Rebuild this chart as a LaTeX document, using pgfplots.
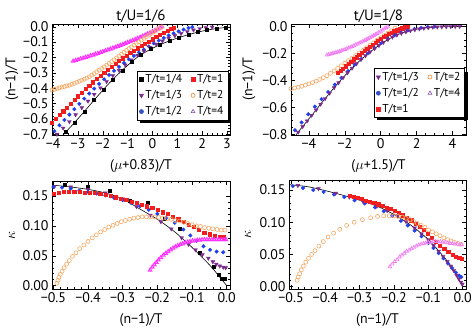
\documentclass[border=0pt]{standalone}
\usepackage{pgfplots}
\pgfplotsset{compat=1.18}
\usepackage{fontspec}
\setmainfont{PT Sans}
\usetikzlibrary{shadows}

\definecolor{cpur}{HTML}{7A2A8C}
\definecolor{cblue}{HTML}{1F3FF0}
\definecolor{cred}{HTML}{F01E1E}
\definecolor{cor}{HTML}{F6A863}
\definecolor{corleg}{HTML}{EE8A2E}
\definecolor{cmag}{HTML}{FF30FF}
\definecolor{cmagl}{HTML}{F27FF2}
\definecolor{cpurleg}{HTML}{8A4AAE}
\definecolor{cbleg}{HTML}{3452C4}

\pgfplotsset{
  mma/.style={
    scale only axis, anchor=south west, clip=true,
    axis line style={line width=0.9bp},
    tick align=inside, xtick pos=both, ytick pos=both,
    major tick length=4bp, minor tick length=2.2bp,
    every tick/.style={black, line width=0.5bp},
    ticklabel style={font=\fontsize{14}{15}\selectfont},
    label style={font=\fontsize{14}{15}\selectfont},
    title style={font=\fontsize{15}{16}\selectfont, inner sep=0pt, yshift=-4.5bp},
    xlabel style={at={(axis description cs:0.5,0)}, anchor=center, yshift=-31bp},
    legend style={draw=black, line width=0.7bp, fill=white,
      font=\fontsize{11.5}{13}\selectfont, inner xsep=2.5bp, inner ysep=1.5bp,
      row sep=2.5bp, /tikz/every even column/.append style={column sep=7bp},
      drop shadow={shadow xshift=2.8bp, shadow yshift=-2.8bp, fill=black, opacity=1}},
    legend columns=2, legend cell align=left,
    legend image code/.code={\draw[#1] plot coordinates {(0bp,0bp)};},
  },
  s14/.style={only marks, mark=square*, mark size=1.5bp, black},
  s13/.style={only marks, mark=triangle*, mark size=2.2bp, color=cpur, mark options={rotate=180}},
  s12/.style={only marks, mark=*, mark size=1.8bp, color=cblue},
  s1/.style={only marks, mark=square*, mark size=1.6bp, color=cred},
  s2/.style={only marks, mark=o, mark size=2bp, color=cor, mark options={line width=0.6bp}},
  s4/.style={only marks, mark=triangle, mark size=2bp, color=cmag, mark options={line width=1bp}},
  l14/.style={only marks, mark=square*, mark size=1.7bp, black},
  l13/.style={only marks, mark=triangle*, mark size=2.3bp, cpur, mark options={rotate=180}},
  l12/.style={only marks, mark=*, mark size=2bp, cbleg},
  l1/.style={only marks, mark=square*, mark size=1.8bp, cred},
  l2/.style={only marks, mark=o, mark size=2bp, corleg, mark options={line width=0.6bp}},
  l4/.style={only marks, mark=triangle, mark size=2.2bp, cpurleg, mark options={line width=0.6bp}},
}

\begin{document}
\begin{tikzpicture}
\useasboundingbox (0,0) rectangle (472bp,336bp);

% ---- top left: t/U=1/6
\begin{axis}[mma, at={(52bp,201bp)}, width=178bp, height=111bp,
  title={t/U=1/6},
  xmin=-4.05, xmax=3.12, ymin=-0.705, ymax=0.018,
  xtick={-4,-3,-2,-1,0,1,2,3}, xticklabels={−4,−3,−2,−1,0,1,2,3},
  ytick={-0.7,-0.6,-0.5,-0.4,-0.3,-0.2,-0.1,0}, yticklabels={−0.7,−0.6,−0.5,−0.4,−0.3,−0.2,−0.1,0.0},
  minor x tick num=4, minor y tick num=4,
  xlabel={($\mu$+0.83)/T}, ylabel={(n−1)/T},
  ylabel style={at={(axis description cs:-0.225,0.5)}, anchor=center},
  legend style={at={(0.99,0.58)}, anchor=north east}]
\addlegendimage{l14}\addlegendentry{T/t=1/4}
\addlegendimage{l1}\addlegendentry{T/t=1}
\addlegendimage{l13}\addlegendentry{T/t=1/3}
\addlegendimage{l2}\addlegendentry{T/t=2}
\addlegendimage{l12}\addlegendentry{T/t=1/2}
\addlegendimage{l4}\addlegendentry{T/t=4}
\addplot[black, line width=0.6bp, smooth, forget plot] coordinates {
(-3.65,-0.712)(-3.3,-0.652)(-3.0,-0.598)(-2.7,-0.543)(-2.4,-0.486)(-2.1,-0.431)(-1.8,-0.377)(-1.5,-0.327)(-1.2,-0.28)(-0.9,-0.237)(-0.6,-0.197)(-0.3,-0.166)(0,-0.14)(0.3,-0.117)(0.6,-0.097)(0.9,-0.079)(1.2,-0.063)(1.5,-0.049)(1.8,-0.036)(2.1,-0.025)(2.4,-0.016)(2.7,-0.009)(3.0,-0.004)(3.15,-0.003)};
\addplot[s4, forget plot] coordinates {
(-3.2,-0.224)(-3.1,-0.219)(-3.0,-0.214)(-2.9,-0.209)(-2.8,-0.204)(-2.7,-0.199)(-2.6,-0.194)(-2.5,-0.189)(-2.4,-0.184)(-2.3,-0.178)(-2.2,-0.173)(-2.1,-0.167)(-2.0,-0.162)(-1.9,-0.156)(-1.8,-0.15)(-1.7,-0.145)(-1.6,-0.139)(-1.5,-0.133)(-1.4,-0.127)(-1.3,-0.121)(-1.2,-0.115)(-1.1,-0.108)(-1.0,-0.102)(-0.9,-0.095)(-0.8,-0.089)(-0.7,-0.082)(-0.6,-0.075)(-0.5,-0.068)(-0.4,-0.061)(-0.3,-0.054)(-0.2,-0.046)(-0.1,-0.039)(0.0,-0.031)(0.1,-0.023)(0.2,-0.015)(0.3,-0.007)(0.38,0.0)};
\addplot[s2, forget plot] coordinates {
(-4.05,-0.412)(-3.95,-0.408)(-3.85,-0.403)(-3.75,-0.398)(-3.65,-0.393)(-3.55,-0.389)(-3.45,-0.385)(-3.35,-0.381)(-3.25,-0.375)(-3.15,-0.369)(-3.05,-0.362)(-2.95,-0.355)(-2.85,-0.348)(-2.75,-0.341)(-2.65,-0.334)(-2.55,-0.326)(-2.45,-0.316)(-2.35,-0.305)(-2.25,-0.294)(-2.15,-0.283)(-2.05,-0.272)(-1.95,-0.261)(-1.85,-0.25)(-1.75,-0.239)(-1.65,-0.227)(-1.55,-0.215)(-1.45,-0.203)(-1.35,-0.191)(-1.25,-0.179)(-1.15,-0.166)(-1.05,-0.154)(-0.95,-0.142)(-0.85,-0.131)(-0.75,-0.12)(-0.65,-0.109)(-0.55,-0.098)(-0.45,-0.087)(-0.35,-0.076)(-0.25,-0.065)(-0.15,-0.054)(-0.05,-0.044)(0.05,-0.034)(0.15,-0.023)(0.25,-0.013)(0.35,-0.002)};
\addplot[s1, forget plot] coordinates {
(-4.05,-0.625)(-3.9,-0.6)(-3.75,-0.575)(-3.6,-0.55)(-3.45,-0.525)(-3.3,-0.5)(-3.15,-0.476)(-3.0,-0.452)(-2.85,-0.428)(-2.7,-0.405)(-2.55,-0.383)(-2.4,-0.361)(-2.25,-0.34)(-2.1,-0.319)(-1.95,-0.299)(-1.8,-0.279)(-1.65,-0.26)(-1.5,-0.241)(-1.35,-0.223)(-1.2,-0.205)(-1.05,-0.188)(-0.9,-0.171)(-0.75,-0.155)(-0.6,-0.139)(-0.45,-0.124)(-0.3,-0.109)(-0.15,-0.095)(0.0,-0.081)(0.15,-0.067)(0.3,-0.054)(0.45,-0.041)(0.6,-0.028)(0.75,-0.015)(0.85,-0.005)};
\addplot[s12, forget plot] coordinates {
(-3.95,-0.68)(-3.75,-0.642)(-3.55,-0.607)(-3.35,-0.572)(-3.15,-0.537)(-2.95,-0.502)(-2.75,-0.468)(-2.55,-0.435)(-2.35,-0.403)(-2.15,-0.372)(-1.95,-0.342)(-1.75,-0.314)(-1.55,-0.287)(-1.35,-0.261)(-1.15,-0.236)(-0.95,-0.212)(-0.75,-0.19)(-0.55,-0.168)(-0.35,-0.148)(-0.15,-0.128)(0.05,-0.108)(0.25,-0.09)(0.45,-0.073)(0.65,-0.057)(0.85,-0.043)(1.05,-0.03)(1.25,-0.018)(1.45,-0.008)(1.6,-0.002)};
\addplot[s13, forget plot] coordinates {
(-3.85,-0.7)(-3.6,-0.66)(-3.35,-0.618)(-3.1,-0.573)(-2.85,-0.527)(-2.6,-0.484)(-2.35,-0.44)(-2.1,-0.398)(-1.85,-0.357)(-1.6,-0.318)(-1.35,-0.283)(-1.1,-0.249)(-0.85,-0.216)(-0.6,-0.186)(-0.35,-0.159)(-0.1,-0.135)(0.15,-0.113)(0.4,-0.093)(0.65,-0.075)(0.9,-0.058)(1.15,-0.044)(1.4,-0.032)(1.65,-0.021)(1.9,-0.012)(2.15,-0.006)(2.4,-0.002)};
\addplot[s14, forget plot] coordinates {
(-3.5,-0.686)(-3.12,-0.622)(-2.74,-0.552)(-2.36,-0.478)(-1.98,-0.408)(-1.6,-0.342)(-1.22,-0.283)(-0.84,-0.229)(-0.46,-0.181)(-0.08,-0.146)(0.3,-0.117)(0.68,-0.092)(1.06,-0.071)(1.44,-0.052)(1.82,-0.035)(2.2,-0.022)(2.58,-0.012)(2.96,-0.005)};
\end{axis}

% ---- top right: t/U=1/8
\begin{axis}[mma, at={(291bp,201bp)}, width=175bp, height=111bp,
  title={t/U=1/8},
  xmin=-5, xmax=4.75, ymin=-0.806, ymax=0.018,
  xtick={-4,-2,0,2,4}, xticklabels={−4,−2,0,2,4},
  ytick={-0.8,-0.6,-0.4,-0.2,0}, yticklabels={−0.8,−0.6,−0.4,−0.2,0.0},
  minor x tick num=3, minor y tick num=3,
  xlabel={($\mu$+1.5)/T}, ylabel={(n−1)/T},
  ylabel style={at={(axis description cs:-0.24,0.5)}, anchor=center},
  legend style={at={(0.995,0.6)}, anchor=north east}]
\addlegendimage{l13}\addlegendentry{T/t=1/3}
\addlegendimage{l2}\addlegendentry{T/t=2}
\addlegendimage{l12}\addlegendentry{T/t=1/2}
\addlegendimage{l4}\addlegendentry{T/t=4}
\addlegendimage{l1}\addlegendentry{T/t=1}
\addplot[black, line width=0.6bp, smooth, forget plot] coordinates {
(-5.0,-0.86)(-4.69,-0.8)(-4.3,-0.735)(-4.0,-0.685)(-3.6,-0.62)(-3.3,-0.568)(-3.0,-0.52)(-2.6,-0.455)(-2.3,-0.41)(-2.0,-0.365)(-1.7,-0.323)(-1.4,-0.283)(-1.1,-0.246)(-0.8,-0.212)(-0.5,-0.18)(-0.2,-0.15)(0.1,-0.122)(0.4,-0.097)(0.7,-0.076)(1.0,-0.058)(1.3,-0.044)(1.6,-0.033)(2.0,-0.021)(2.5,-0.011)(3.0,-0.005)(3.5,-0.002)(4.0,-0.001)(4.75,0.0)};
\addplot[s4, color=cmagl, mark options={line width=0.7bp}, forget plot] coordinates {
(-3.0,-0.213)(-2.9,-0.209)(-2.8,-0.205)(-2.7,-0.201)(-2.6,-0.197)(-2.5,-0.193)(-2.4,-0.19)(-2.3,-0.186)(-2.2,-0.181)(-2.1,-0.176)(-2.0,-0.171)(-1.9,-0.166)(-1.8,-0.161)(-1.7,-0.155)(-1.6,-0.149)(-1.5,-0.143)(-1.4,-0.137)(-1.3,-0.131)(-1.2,-0.124)(-1.1,-0.118)(-1.0,-0.111)(-0.9,-0.104)(-0.8,-0.097)(-0.7,-0.09)(-0.6,-0.083)(-0.5,-0.076)(-0.4,-0.068)(-0.3,-0.06)(-0.2,-0.052)(-0.1,-0.044)(0.0,-0.036)(0.1,-0.027)(0.2,-0.018)(0.3,-0.01)(0.4,-0.003)};
\addplot[s2, forget plot] coordinates {
(-5.0,-0.462)(-4.8,-0.457)(-4.6,-0.451)(-4.4,-0.444)(-4.2,-0.436)(-4.0,-0.427)(-3.8,-0.417)(-3.6,-0.406)(-3.4,-0.394)(-3.2,-0.38)(-3.0,-0.365)(-2.8,-0.348)(-2.6,-0.33)(-2.4,-0.311)(-2.2,-0.292)(-2.0,-0.273)(-1.8,-0.254)(-1.6,-0.235)(-1.4,-0.216)(-1.2,-0.197)(-1.0,-0.178)(-0.8,-0.159)(-0.6,-0.14)(-0.4,-0.121)(-0.2,-0.102)(0.0,-0.084)(0.2,-0.066)(0.4,-0.05)(0.6,-0.032)(0.8,-0.014)};
\addplot[s1, forget plot] coordinates {
(-2.4,-0.346)(-2.25,-0.329)(-2.1,-0.312)(-1.95,-0.295)(-1.8,-0.278)(-1.65,-0.261)(-1.5,-0.244)(-1.35,-0.228)(-1.2,-0.212)(-1.05,-0.196)(-0.9,-0.18)(-0.75,-0.164)(-0.6,-0.148)(-0.45,-0.133)(-0.3,-0.118)(-0.15,-0.104)(0.0,-0.091)(0.15,-0.078)(0.3,-0.066)(0.45,-0.055)(0.6,-0.045)(0.75,-0.036)(0.9,-0.028)(1.05,-0.02)(1.2,-0.013)(1.35,-0.006)(1.5,0.0)};
\addplot[s12, forget plot] coordinates {
(-4.78,-0.77)(-4.41,-0.713)(-4.04,-0.652)(-3.67,-0.595)(-3.3,-0.54)(-2.93,-0.487)(-2.56,-0.432)(-2.19,-0.382)(-1.82,-0.332)(-1.45,-0.284)(-1.08,-0.24)(-0.71,-0.2)(-0.34,-0.16)(0.03,-0.124)(0.4,-0.092)(0.77,-0.066)(1.14,-0.046)(1.51,-0.03)(1.88,-0.018)(2.25,-0.01)(2.62,-0.004)(2.99,-0.001)};
\addplot[s13, forget plot] coordinates {
(-4.6,-0.785)(-4.35,-0.743)(-4.1,-0.702)(-3.85,-0.66)(-3.6,-0.62)(-3.35,-0.577)(-3.1,-0.536)(-2.85,-0.495)(-2.6,-0.455)(-2.35,-0.418)(-2.1,-0.38)(-1.85,-0.344)(-1.6,-0.31)(-1.35,-0.277)(-1.1,-0.246)(-0.85,-0.218)(-0.6,-0.19)(-0.35,-0.165)(-0.1,-0.141)(0.15,-0.118)(0.4,-0.097)(0.65,-0.079)(0.9,-0.064)(1.15,-0.051)(1.4,-0.04)(1.65,-0.031)(1.9,-0.024)(2.15,-0.018)(2.4,-0.013)(2.65,-0.009)(2.9,-0.006)(3.15,-0.004)(3.4,-0.003)(3.65,-0.002)(3.9,-0.001)(4.15,0.0)(4.4,0.0)};
\end{axis}

% ---- bottom left: kappa, t/U=1/6
\begin{axis}[mma, at={(52bp,47bp)}, width=178bp, height=108bp,
  xmin=-0.504, xmax=0.0095, ymin=-0.0055, ymax=0.175,
  xtick={-0.5,-0.4,-0.3,-0.2,-0.1,0}, xticklabels={−0.5,−0.4,−0.3,−0.2,−0.1,0.0},
  ytick={0,0.05,0.1,0.15}, yticklabels={0.00,0.05,0.10,0.15},
  minor x tick num=4, minor y tick num=4,
  xlabel={(n−1)/T}, ylabel={$\kappa$},
  ylabel style={at={(axis description cs:-0.225,0.5)}, anchor=center}]
\addplot[black, line width=0.6bp, smooth] coordinates {
(-0.51,0.169)(-0.5,0.168)(-0.45,0.165)(-0.4,0.161)(-0.35,0.155)(-0.3,0.145)(-0.25,0.128)(-0.2,0.111)(-0.15,0.09)(-0.1,0.064)(-0.05,0.035)(-0.025,0.018)(0,0.0)};
\addplot[s14] coordinates {
(-0.466,0.169)(-0.402,0.165)(-0.337,0.159)(-0.281,0.142)(-0.229,0.138)(-0.18,0.112)(-0.135,0.096)(-0.077,0.056)(-0.038,0.031)(-0.024,0.018)(-0.014,0.012)(-0.005,0.011)};
\addplot[s13] coordinates {
(-0.497,0.166)(-0.45,0.165)(-0.4,0.161)(-0.35,0.155)(-0.3,0.145)(-0.26,0.132)(-0.22,0.118)(-0.19,0.107)(-0.16,0.095)(-0.13,0.08)(-0.11,0.069)(-0.09,0.06)(-0.07,0.052)(-0.053,0.046)(-0.04,0.04)(-0.03,0.036)(-0.02,0.033)(-0.01,0.031)(-0.003,0.03)};
\addplot[s12] coordinates {
(-0.5,0.165)(-0.475,0.164)(-0.45,0.162)(-0.425,0.159)(-0.4,0.157)(-0.375,0.154)(-0.35,0.151)(-0.325,0.147)(-0.3,0.143)(-0.275,0.138)(-0.25,0.133)(-0.225,0.127)(-0.2,0.12)(-0.175,0.113)(-0.15,0.105)(-0.125,0.094)(-0.105,0.084)(-0.087,0.075)(-0.067,0.066)(-0.048,0.06)(-0.029,0.057)(-0.01,0.056)};
\addplot[s1] coordinates {
(-0.5,0.154)(-0.485,0.156)(-0.47,0.157)(-0.455,0.157)(-0.44,0.157)(-0.425,0.157)(-0.41,0.156)(-0.395,0.156)(-0.38,0.155)(-0.365,0.154)(-0.35,0.152)(-0.335,0.15)(-0.32,0.148)(-0.305,0.146)(-0.29,0.144)(-0.275,0.141)(-0.26,0.139)(-0.245,0.136)(-0.23,0.133)(-0.215,0.13)(-0.2,0.127)(-0.185,0.123)(-0.17,0.12)(-0.155,0.116)(-0.14,0.111)(-0.125,0.107)(-0.11,0.102)(-0.095,0.098)(-0.08,0.093)(-0.065,0.089)(-0.05,0.086)(-0.035,0.084)(-0.02,0.082)(-0.008,0.081)};
\addplot[s2] coordinates {
(-0.49,0.004)(-0.487,0.009)(-0.484,0.014)(-0.48,0.019)(-0.475,0.024)(-0.469,0.03)(-0.462,0.036)(-0.454,0.042)(-0.445,0.049)(-0.435,0.055)(-0.424,0.062)(-0.412,0.068)(-0.4,0.074)(-0.388,0.08)(-0.376,0.085)(-0.364,0.09)(-0.352,0.094)(-0.34,0.098)(-0.328,0.101)(-0.316,0.104)(-0.304,0.107)(-0.292,0.109)(-0.28,0.111)(-0.268,0.113)(-0.256,0.114)(-0.244,0.115)(-0.232,0.115)(-0.22,0.115)(-0.208,0.115)(-0.196,0.114)(-0.184,0.113)(-0.172,0.112)(-0.16,0.111)(-0.148,0.109)(-0.136,0.108)(-0.124,0.106)(-0.112,0.104)(-0.1,0.102)(-0.088,0.1)(-0.076,0.099)(-0.064,0.097)(-0.052,0.096)(-0.04,0.095)(-0.028,0.094)(-0.016,0.093)(-0.005,0.093)};
\addplot[s4] coordinates {
(-0.221,0.026)(-0.215,0.031)(-0.209,0.035)(-0.203,0.039)(-0.197,0.043)(-0.19,0.047)(-0.183,0.051)(-0.176,0.054)(-0.169,0.057)(-0.162,0.06)(-0.155,0.063)(-0.148,0.065)(-0.141,0.067)(-0.134,0.069)(-0.127,0.07)(-0.12,0.072)(-0.113,0.073)(-0.106,0.074)(-0.099,0.075)(-0.092,0.075)(-0.085,0.076)(-0.078,0.076)(-0.071,0.077)(-0.064,0.077)(-0.057,0.077)(-0.05,0.077)(-0.043,0.077)(-0.036,0.077)(-0.029,0.077)(-0.022,0.077)(-0.015,0.077)(-0.008,0.077)(-0.002,0.077)};
\end{axis}

% ---- bottom right: kappa, t/U=1/8
\begin{axis}[mma, at={(289bp,47bp)}, width=177bp, height=109bp,
  xmin=-0.5058, xmax=0.0096, ymin=-0.0036, ymax=0.1655,
  xtick={-0.5,-0.4,-0.3,-0.2,-0.1,0}, xticklabels={−0.5,−0.4,−0.3,−0.2,−0.1,0.0},
  ytick={0,0.05,0.1,0.15}, yticklabels={0.00,0.05,0.10,0.15},
  minor x tick num=4, minor y tick num=4,
  xlabel={(n−1)/T}, ylabel={$\kappa$},
  ylabel style={at={(axis description cs:-0.232,0.5)}, anchor=center}]
\addplot[black, line width=0.6bp, smooth] coordinates {
(-0.51,0.159)(-0.5,0.158)(-0.45,0.155)(-0.4,0.149)(-0.35,0.142)(-0.3,0.134)(-0.25,0.125)(-0.2,0.112)(-0.15,0.095)(-0.1,0.073)(-0.05,0.043)(-0.025,0.024)(0,0.0)};
\addplot[s12] coordinates {
(-0.495,0.156)(-0.465,0.153)(-0.435,0.15)(-0.405,0.147)(-0.375,0.143)(-0.345,0.139)(-0.315,0.134)(-0.285,0.129)(-0.255,0.123)(-0.23,0.117)(-0.205,0.11)(-0.18,0.102)(-0.16,0.095)(-0.14,0.087)(-0.12,0.078)(-0.1,0.068)(-0.085,0.06)(-0.07,0.052)(-0.056,0.044)(-0.043,0.036)(-0.031,0.029)(-0.02,0.022)(-0.01,0.017)(-0.004,0.015)};
\addplot[s13] coordinates {
(-0.48,0.157)(-0.42,0.152)(-0.37,0.145)(-0.33,0.139)(-0.29,0.132)(-0.25,0.125)(-0.22,0.118)(-0.19,0.11)(-0.165,0.101)(-0.14,0.091)(-0.12,0.082)(-0.1,0.073)(-0.085,0.064)(-0.07,0.055)(-0.057,0.047)(-0.045,0.039)(-0.035,0.032)(-0.026,0.025)(-0.018,0.018)(-0.011,0.012)(-0.005,0.007)(-0.001,0.004)};
\addplot[s1] coordinates {
(-0.33,0.141)(-0.318,0.14)(-0.306,0.138)(-0.294,0.136)(-0.282,0.134)(-0.27,0.132)(-0.258,0.13)(-0.246,0.128)(-0.234,0.126)(-0.222,0.123)(-0.21,0.121)(-0.198,0.118)(-0.186,0.115)(-0.174,0.111)(-0.162,0.107)(-0.15,0.103)(-0.138,0.098)(-0.126,0.093)(-0.114,0.088)(-0.102,0.082)(-0.09,0.076)(-0.078,0.07)(-0.066,0.064)(-0.054,0.059)(-0.042,0.054)(-0.03,0.05)(-0.02,0.047)(-0.01,0.045)(-0.003,0.043)};
\addplot[s2] coordinates {
(-0.482,0.01)(-0.479,0.015)(-0.475,0.02)(-0.47,0.026)(-0.464,0.032)(-0.457,0.038)(-0.449,0.044)(-0.44,0.05)(-0.43,0.056)(-0.419,0.063)(-0.406,0.07)(-0.392,0.077)(-0.376,0.083)(-0.358,0.089)(-0.338,0.095)(-0.316,0.1)(-0.292,0.104)(-0.268,0.107)(-0.248,0.109)(-0.23,0.11)(-0.214,0.11)(-0.2,0.11)(-0.188,0.109)(-0.176,0.108)(-0.165,0.106)(-0.154,0.104)(-0.143,0.101)(-0.132,0.098)(-0.121,0.095)(-0.11,0.092)(-0.099,0.088)(-0.088,0.085)(-0.077,0.082)(-0.066,0.079)(-0.055,0.076)(-0.044,0.073)(-0.034,0.071)(-0.024,0.069)(-0.014,0.067)(-0.005,0.066)};
\addplot[s4, color=cmagl, mark options={line width=0.7bp}] coordinates {
(-0.212,0.031)(-0.205,0.035)(-0.198,0.039)(-0.191,0.042)(-0.184,0.046)(-0.177,0.049)(-0.17,0.052)(-0.163,0.055)(-0.156,0.057)(-0.149,0.059)(-0.142,0.061)(-0.135,0.063)(-0.128,0.065)(-0.121,0.066)(-0.114,0.067)(-0.107,0.068)(-0.1,0.069)(-0.093,0.069)(-0.086,0.07)(-0.079,0.07)(-0.072,0.07)(-0.065,0.07)(-0.058,0.069)(-0.051,0.069)(-0.044,0.068)(-0.037,0.067)(-0.03,0.067)(-0.023,0.066)(-0.016,0.066)(-0.009,0.065)(-0.003,0.065)};
\end{axis}
\end{tikzpicture}
\end{document}
